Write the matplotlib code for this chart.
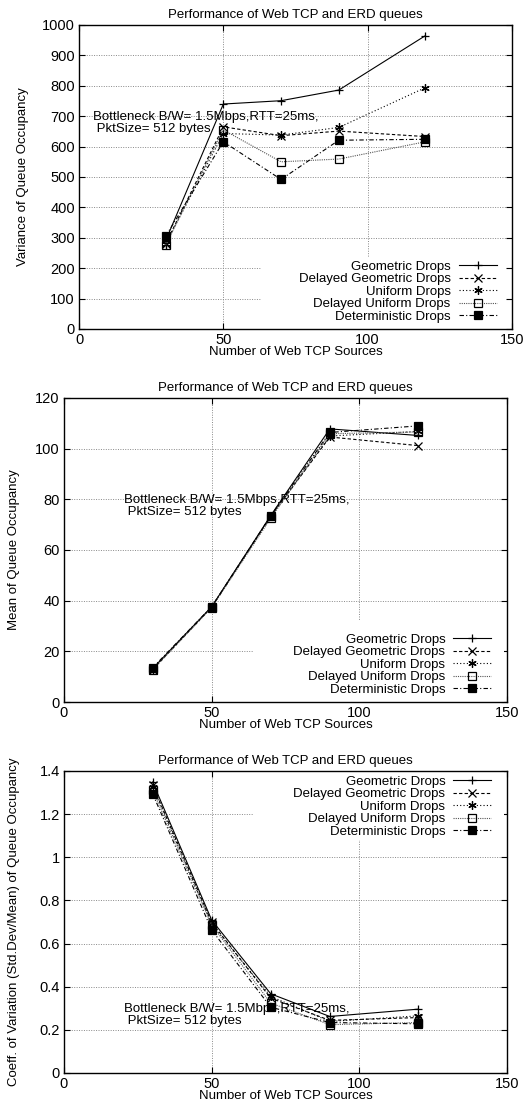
import matplotlib
matplotlib.use("Agg")
import matplotlib.pyplot as plt
from matplotlib.patches import Rectangle
from matplotlib.ticker import FormatStrFormatter

plt.rcParams['font.family'] = ['Liberation Sans', 'DejaVu Sans']
plt.rcParams['font.size'] = 9.5

# number of Web TCP sources
sources = [30, 50, 70, 90, 120]

series_names = ['Geometric Drops', 'Delayed Geometric Drops', 'Uniform Drops',
                'Delayed Uniform Drops', 'Deterministic Drops']

# variance of queue occupancy
variance = {
    'Geometric Drops':         [290, 740, 751, 786, 965],
    'Delayed Geometric Drops': [280, 665, 636, 651, 633],
    'Uniform Drops':           [280, 643, 638, 663, 794],
    'Delayed Uniform Drops':   [276, 655, 550, 559, 616],
    'Deterministic Drops':     [305, 616, 492, 621, 624],
}

# mean of queue occupancy
mean = {
    'Geometric Drops':         [13.2, 37.6, 73.6, 107.8, 105.2],
    'Delayed Geometric Drops': [12.8, 37.4, 73.3, 104.6, 101.2],
    'Uniform Drops':           [13.0, 37.5, 73.4, 105.0, 106.8],
    'Delayed Uniform Drops':   [12.7, 37.3, 72.5, 105.9, 106.6],
    'Deterministic Drops':     [13.5, 37.6, 73.5, 106.4, 109.0],
}

# coefficient of variation
cov = {
    'Geometric Drops':         [1.349, 0.709, 0.367, 0.262, 0.296],
    'Delayed Geometric Drops': [1.334, 0.698, 0.347, 0.244, 0.257],
    'Uniform Drops':           [1.326, 0.690, 0.355, 0.239, 0.265],
    'Delayed Uniform Drops':   [1.310, 0.686, 0.324, 0.224, 0.234],
    'Deterministic Drops':     [1.295, 0.663, 0.305, 0.234, 0.228],
}

styles = {
    'Geometric Drops':         dict(color='black', ls='-', marker='+', mfc='none'),
    'Delayed Geometric Drops': dict(color='black', ls=(0, (3, 2)), marker='x', mfc='none'),
    'Uniform Drops':           dict(color='black', ls=(0, (1, 2)), marker=(6, 2, 0), mfc='none'),
    'Delayed Uniform Drops':   dict(color='#555555', ls=(0, (1, 1)), marker='s', mfc='none', mec='black'),
    'Deterministic Drops':     dict(color='black', ls=(0, (4, 2, 1, 2)), marker='s', mfc='black', mec='black'),
}

W, H = 523, 1111
fig = plt.figure(figsize=(W / 100, H / 100), dpi=100)

note = 'Bottleneck B/W= 1.5Mbps,RTT=25ms,\n PktSize= 512 bytes'


def panel(rect, data, ylim, ystep, ylabel, ylab_x, text_xy, legend_loc, legend_anchor, blank, yfmt):
    l, t, r, b = rect
    ax = fig.add_axes([l / W, 1 - b / H, (r - l) / W, (b - t) / H])
    for name in series_names:
        st = styles[name]
        ax.plot(sources, data[name], lw=0.8, ms=6, mew=0.9, label=name, zorder=3, **st)
    ax.set_xlim(0, 150)
    ax.set_ylim(*ylim)
    ax.set_xticks([0, 50, 100, 150])
    ticks = []
    v = ylim[0]
    while v <= ylim[1] + 1e-9:
        ticks.append(round(v, 6))
        v += ystep
    ax.set_yticks(ticks)
    ax.yaxis.set_major_formatter(FormatStrFormatter(yfmt))
    ax.tick_params(direction='in', length=4, top=True, right=True, pad=3, labelsize=10.5)
    ax.grid(True, color='#888888', ls=(0, (1, 1.5)), lw=0.7)
    ax.set_axisbelow(True)
    for s in ax.spines.values():
        s.set_linewidth(1.0)
    # blank area under the key, like gnuplot
    ax.add_patch(Rectangle(blank[0], blank[1], blank[2], transform=ax.transData,
                           facecolor='white', edgecolor='none', zorder=1))
    ax.set_title('Performance of Web TCP and ERD queues', fontsize=9.5, pad=5)
    ax.set_xlabel('Number of Web TCP Sources', fontsize=9.5, labelpad=-1)
    ax.set_ylabel(ylabel, fontsize=9.5)
    ax.yaxis.set_label_coords(ylab_x, 0.5)
    ax.text(text_xy[0], text_xy[1], note, fontsize=9.5, va='center', ha='left',
            linespacing=1.0, zorder=2)
    ax.legend(loc=legend_loc, bbox_to_anchor=legend_anchor, frameon=False,
              markerfirst=False, numpoints=1, handlelength=2.9, handletextpad=0.6,
              labelspacing=0.02, borderpad=0, borderaxespad=0, fontsize=9.5)
    return ax


panel((79, 25, 512, 329), variance, (0, 1000), 100, 'Variance of Queue Occupancy', -0.115,
      (5, 678), 'lower right', (0.965, 0.02), ((63, 0), 85, 238), '%g')

panel((64, 398, 507, 702), mean, (0, 120), 20, 'Mean of Queue Occupancy', -0.1,
      (20.3, 77.3), 'lower right', (0.965, 0.02), ((64.5, 0), 84.5, 32.5), '%g')

panel((64, 771, 507, 1073), cov, (0, 1.4), 0.2,
      'Coeff. of Variation (Std.Dev/Mean) of Queue Occupancy', -0.1,
      (20.3, 0.267), 'upper right', (0.965, 0.985), ((64.5, 1.08), 84.5, 0.32), '%g')

fig.savefig('out.png', dpi=100)
